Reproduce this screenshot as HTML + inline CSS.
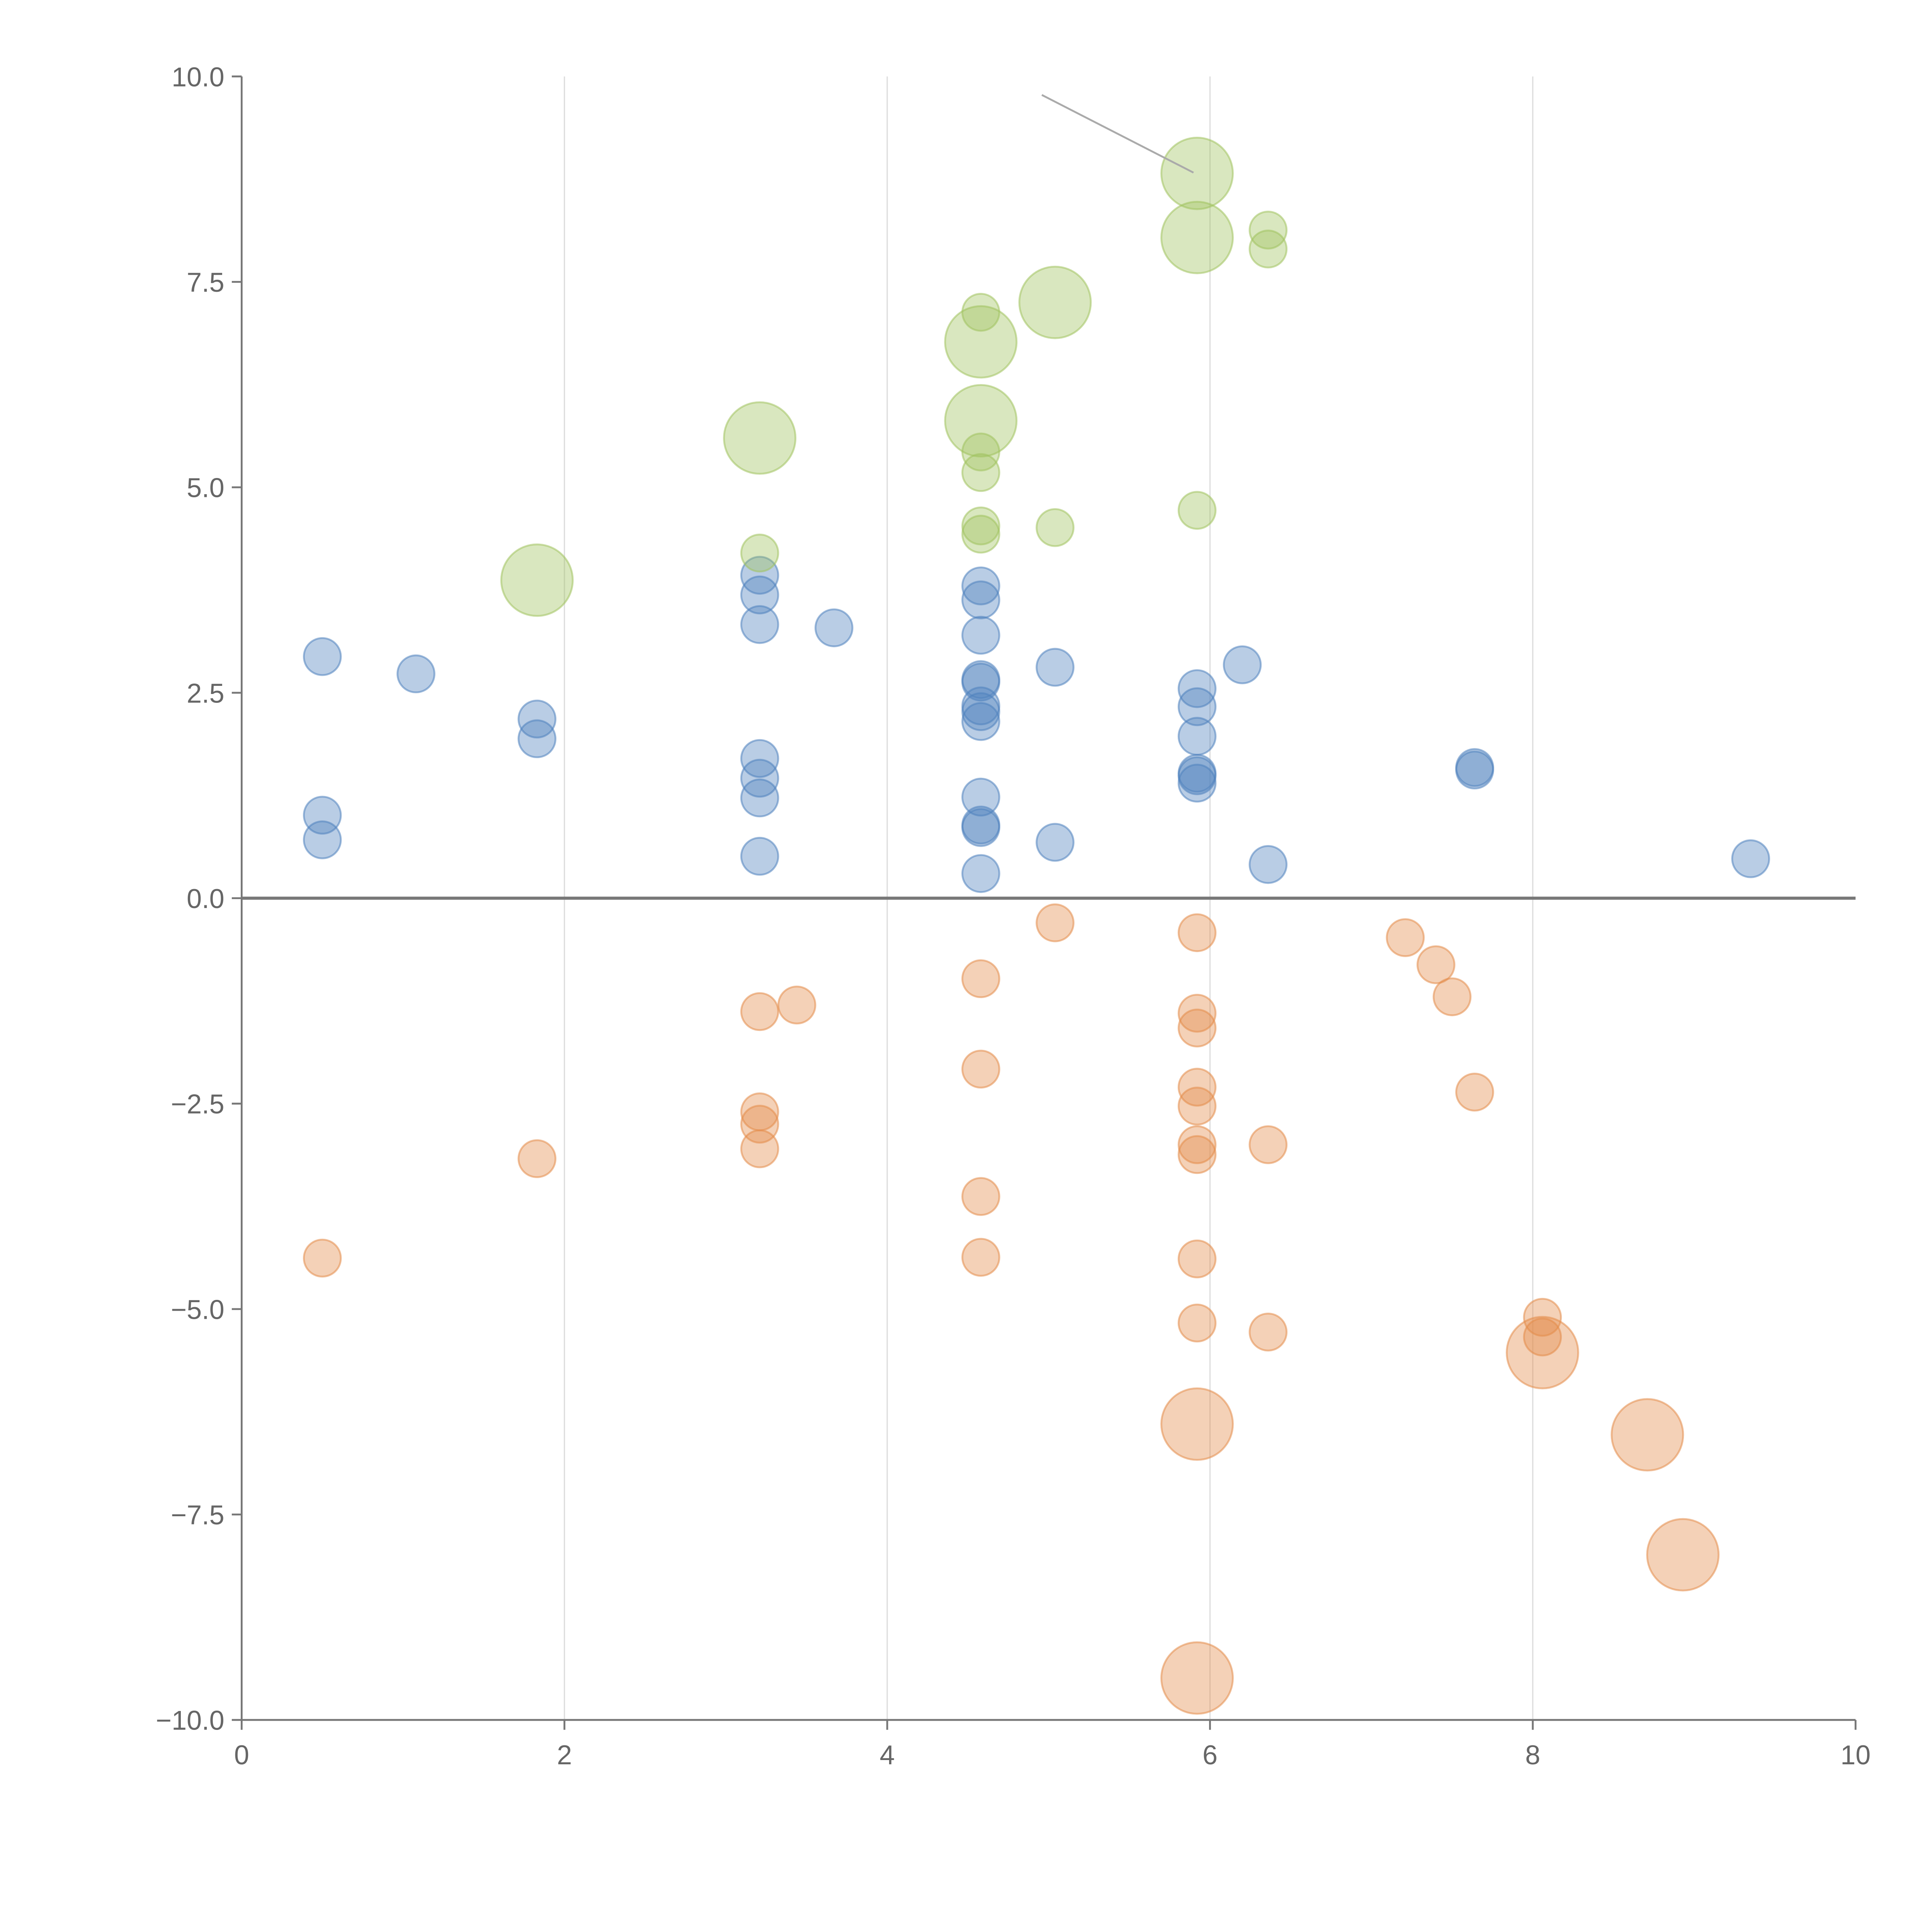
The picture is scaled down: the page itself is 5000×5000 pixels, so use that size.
<!DOCTYPE html>
<html><head><meta charset="utf-8"><style>
html,body{margin:0;padding:0;background:#fff;}
svg{display:block;}
text{font-family:"Liberation Sans",sans-serif;fill:#666;}
</style></head><body>
<svg id="chart" width="5000" height="5000" viewBox="0 0 1567 1567" xmlns="http://www.w3.org/2000/svg">
<g id="grid"></g>
<g id="axes"></g>
<g id="marks"></g>
<line x1="845" y1="77" x2="968" y2="140" stroke="#aaa" stroke-width="1.5"/>
</svg>
<script>
const xTicks=[0,2,4,6,8,10];
const yTicks=[-10,-7.5,-5,-2.5,0,2.5,5,7.5,10];
const yTickLabels=["\u221210.0","\u22127.5","\u22125.0","\u22122.5","0.0","2.5","5.0","7.5","10.0"];
const blueX=[0.50,1.08,1.83,1.83,0.50,0.50,3.21,3.21,3.21,3.21,3.21,3.21,3.21,3.67,4.58,4.58,4.58,4.58,4.58,4.58,4.58,4.58,4.58,4.58,4.58,4.58,5.04,5.04,5.92,5.92,5.92,5.92,5.92,5.92,6.20,6.36,7.64,7.64,9.35];
const blueY=[2.94,2.73,2.18,1.94,1.01,0.71,3.93,3.69,3.33,1.70,1.46,1.22,0.51,3.29,3.80,3.63,3.20,2.66,2.63,2.34,2.27,2.15,1.23,0.89,0.86,0.30,2.81,0.68,2.55,2.33,1.97,1.52,1.49,1.40,2.84,0.41,1.59,1.56,0.48];
const orangeX=[0.50,1.83,3.21,3.21,3.21,3.21,3.44,4.58,4.58,4.58,4.58,5.04,5.92,5.92,5.92,5.92,5.92,5.92,5.92,5.92,5.92,6.36,6.36,7.21,7.40,7.50,7.64,8.06,8.06,5.92,5.92,8.06,8.71,8.93];
const orangeY=[-4.38,-3.17,-1.38,-2.60,-2.75,-3.05,-1.30,-0.98,-2.08,-3.63,-4.37,-0.30,-0.42,-1.40,-1.58,-2.30,-2.53,-3.00,-3.12,-4.39,-5.17,-3.00,-5.28,-0.48,-0.81,-1.20,-2.36,-5.10,-5.34,-6.40,-9.49,-5.53,-6.53,-7.99];
const orangeSize=[1,1,1,1,1,1,1,1,1,1,1,1,1,1,1,1,1,1,1,1,1,1,1,1,1,1,1,1,1,2,2,2,2,2];
const greenX=[3.21,4.58,4.58,4.58,4.58,4.58,5.04,5.92,6.36,6.36,1.83,3.21,4.58,4.58,5.04,5.92,5.92];
const greenY=[4.20,7.13,5.43,5.18,4.53,4.43,4.51,4.72,8.13,7.90,3.87,5.60,6.77,5.81,7.25,8.82,8.04];
const greenSize=[1,1,1,1,1,1,1,1,1,1,2,2,2,2,2,2,2];

const X0=196,X1=1505,Y0=1395,Y1=62;
const sx=v=>X0+(v-0)/(10-0)*(X1-X0);
const sy=v=>Y0-(v+10)/20*(Y0-Y1);
const NS="http://www.w3.org/2000/svg";
function mk(tag,attrs,parent){const e=document.createElementNS(NS,tag);for(const k in attrs)e.setAttribute(k,attrs[k]);parent.appendChild(e);return e;}
const grid=document.getElementById('grid'),axes=document.getElementById('axes'),marks=document.getElementById('marks');
xTicks.forEach(t=>{
  if(t>0&&t<10){const g=mk('line',{x1:sx(t),x2:sx(t),y1:Y1,y2:Y0,stroke:'#ddd','stroke-width':1},grid);
  
  }
  const tk=mk('line',{x1:sx(t),x2:sx(t),y1:Y0,y2:Y0+8,stroke:'#777','stroke-width':1.5},axes);
  
  
  const lb=mk('text',{x:sx(t),y:Y0+36,'text-anchor':'middle','font-size':22},axes);
  lb.textContent=String(t);
  
  
});
yTicks.forEach((t,i)=>{
  const tk=mk('line',{x1:X0-8,x2:X0,y1:sy(t),y2:sy(t),stroke:'#777','stroke-width':1.5},axes);
  
  
  const lb=mk('text',{x:X0-14,y:sy(t)+8,'text-anchor':'end','font-size':22},axes);
  lb.textContent=yTickLabels[i];
  
  
});
const ya=mk('line',{x1:X0,x2:X0,y1:Y1,y2:Y0,stroke:'#777','stroke-width':1.5},axes);


const xa=mk('line',{x1:X0,x2:X1,y1:Y0,y2:Y0,stroke:'#777','stroke-width':1.5},axes);


const zl=mk('line',{x1:X0,x2:X1,y1:sy(0),y2:sy(0),stroke:'#777','stroke-width':2.5},axes);


function series(xs,ys,sizes,fill,stroke,name){
  xs.forEach((x,i)=>{
    const r=sizes?(sizes[i]===2?29:15):15;
    const c=mk('circle',{cx:sx(x),cy:sy(ys[i]),r:r,fill:fill,stroke:stroke,'stroke-width':1.5},marks);
    
    
  });
}
series(blueX,blueY,null,'rgba(79,129,189,0.4)','rgba(79,129,189,0.55)','blue-bubble');
series(orangeX,orangeY,orangeSize,'rgba(228,140,75,0.4)','rgba(228,140,75,0.55)','orange-bubble');
series(greenX,greenY,greenSize,'rgba(160,195,95,0.4)','rgba(160,195,95,0.55)','green-bubble');
</script>
</body></html>
